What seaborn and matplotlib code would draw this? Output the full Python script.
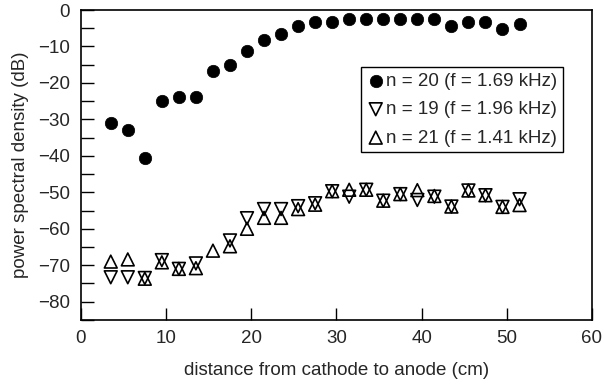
import numpy as np
import pandas as pd
import matplotlib
matplotlib.use("Agg")
import matplotlib.pyplot as plt
from matplotlib.ticker import MultipleLocator
import seaborn as sns

# distance from cathode (cm)
distance = [3.5, 5.5, 7.5, 9.5, 11.5, 13.5, 15.5, 17.5, 19.5, 21.5, 23.5, 25.5, 27.5,
            29.5, 31.5, 33.5, 35.5, 37.5, 39.5, 41.5, 43.5, 45.5, 47.5, 49.5, 51.5]

# power spectral density (dB)
psd_n20 = [-31.1, -32.8, -40.7, -24.9, -23.8, -23.8, -16.7, -15.0, -11.2, -8.2, -6.6, -4.3, -3.2,
           -3.2, -2.5, -2.5, -2.5, -2.5, -2.5, -2.5, -4.3, -3.4, -3.4, -5.2, -3.9]
psd_n19 = [-73.3, -73.3, -73.5, -68.6, -71.0, -69.5, np.nan, -63.2, -57.1, -54.6, -54.6, -53.8, -53.0,
           -49.7, -51.2, -49.3, -52.3, -50.5, -52.1, -51.2, -53.9, -49.5, -50.8, -54.0, -51.9]
psd_n21 = [-69.0, -68.4, -73.7, -69.2, -71.0, -70.8, -66.0, -64.8, -60.0, -57.0, -57.0, -54.6, -53.4,
           -49.7, -49.3, -49.3, -52.3, -50.5, -49.4, -51.0, -53.9, -49.5, -50.8, -54.0, -53.5]

labels = ["n = 20 (f = 1.69 kHz)", "n = 19 (f = 1.96 kHz)", "n = 21 (f = 1.41 kHz)"]

df = pd.DataFrame({"x": distance, "n20": psd_n20, "n19": psd_n19, "n21": psd_n21})

sns.set_style("white")
plt.rcParams["font.family"] = ["Liberation Sans", "DejaVu Sans"]

FS = 13.5

fig = plt.figure(figsize=(6.04, 3.85), dpi=100)
ax = fig.add_axes([0.134, 0.169, 0.846, 0.805])

sns.scatterplot(data=df, x="x", y="n20", marker="o", s=80, color="black",
                edgecolor="black", linewidth=0.5, label=labels[0], ax=ax)
sns.scatterplot(data=df, x="x", y="n19", marker="v", s=85, facecolor="none",
                edgecolor="black", linewidth=1.2, label=labels[1], ax=ax)
sns.scatterplot(data=df, x="x", y="n21", marker="^", s=85, facecolor="none",
                edgecolor="black", linewidth=1.2, label=labels[2], ax=ax)

ax.set_xlim(0, 60)
ax.set_ylim(-85, 0)
ax.xaxis.set_major_locator(MultipleLocator(10))
ax.set_yticks(np.arange(-80, 1, 10))
ax.yaxis.set_minor_locator(MultipleLocator(5))
ax.tick_params(axis="both", which="both", direction="in", length=9, width=1,
               color="black", labelsize=FS, bottom=True, left=True,
               top=False, right=False)
ax.tick_params(axis="x", pad=7)
ax.tick_params(axis="y", pad=8)

for sp in ax.spines.values():
    sp.set_color("black")
    sp.set_linewidth(1.2)

ax.set_xlabel("distance from cathode to anode (cm)", fontsize=FS, labelpad=11)
ax.set_ylabel("power spectral density (dB)", fontsize=FS, labelpad=6)

leg = ax.legend(loc="upper right", bbox_to_anchor=(0.943, 0.816), fontsize=FS,
                frameon=True, fancybox=False, edgecolor="black", framealpha=1,
                handletextpad=0.05, handlelength=1.0, labelspacing=0.6,
                borderpad=0.3, borderaxespad=0)
leg.get_frame().set_linewidth(1.0)

fig.savefig("out.png", dpi=100)
